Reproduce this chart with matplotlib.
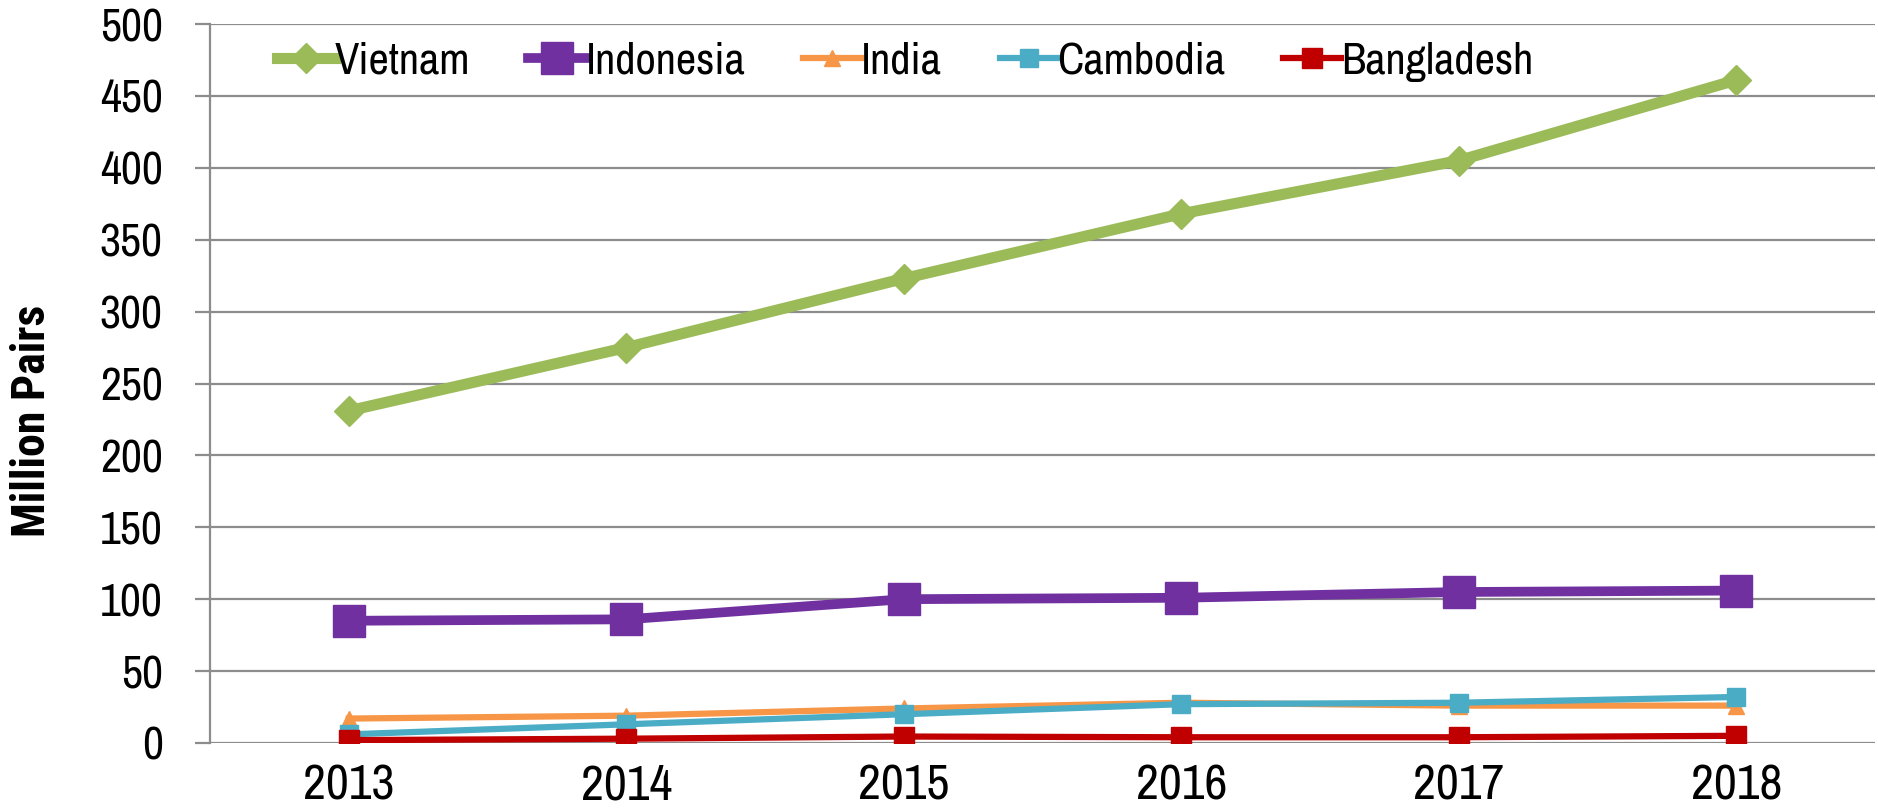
import matplotlib
matplotlib.use("Agg")
import matplotlib.pyplot as plt
from matplotlib import font_manager as fm

years = ["2013", "2014", "2015", "2016", "2017", "2018"]
vietnam = [231, 275, 323, 368, 405, 461]
indonesia = [85, 86, 100, 101, 105, 106]
india = [17, 19, 24, 28, 26, 26]
cambodia = [6, 13, 20, 27, 28, 32]
bangladesh = [2, 3, 4.5, 4, 4, 5]
series_names = ["Vietnam", "Indonesia", "India", "Cambodia", "Bangladesh"]
y_ticks = [0, 50, 100, 150, 200, 250, 300, 350, 400, 450, 500]

fonts = fm.fontManager.ttflist
names = {f.name for f in fonts}
cands = ["Liberation Sans Narrow", "Arial Narrow", "Archivo Narrow", "PT Sans Narrow", "Roboto Condensed"]
narrow = next((c for c in cands if c in names), "DejaVu Sans")

def has_bold(n):
    for f in fonts:
        if f.name == n and f.style == "normal":
            try:
                if int(f.weight) >= 700:
                    return True
            except (TypeError, ValueError):
                if str(f.weight) in ("bold", "heavy", "black", "extra bold"):
                    return True
    return False

bold_cands = ["Liberation Sans Narrow", "Arial Narrow", "Roboto Condensed", "IBM Plex Sans Condensed",
              "Fira Sans Condensed", "Open Sans Condensed", "Encode Sans Condensed", "Barlow Semi Condensed"]
narrow_bold = next((c for c in bold_cands if c in names and has_bold(c)), narrow)

W, H = 1878, 811
fig = plt.figure(figsize=(W / 100, H / 100), dpi=100)
ax = fig.add_axes([210 / W, 1 - 743 / H, (1875 - 210) / W, (743 - 24) / H])

x = list(range(len(years)))
ax.plot(x, vietnam, color="#9BBB59", lw=8, marker="D", ms=15.5, label=series_names[0], zorder=3)
ax.plot(x, indonesia, color="#7030A0", lw=7, marker="s", ms=22.5, label=series_names[1], zorder=3)
ax.plot(x, india, color="#F79646", lw=4.5, marker="^", ms=11, label=series_names[2], zorder=4)
ax.plot(x, cambodia, color="#4BACC6", lw=4.5, marker="s", ms=13, label=series_names[3], zorder=5)
ax.plot(x, bangladesh, color="#C00000", lw=4.5, marker="s", ms=14.5, label=series_names[4], zorder=6)

ax.set_xlim(-0.5, len(years) - 0.5)
ax.set_ylim(0, 500)
ax.set_yticks(y_ticks)
ax.set_xticks(x)
ax.set_xticklabels(years, fontfamily=narrow, fontsize=36)
ax.set_yticklabels([str(v) for v in y_ticks], fontfamily=narrow, fontsize=33)

ax.grid(axis="y", color="#8C8C8C", lw=1.6, zorder=0)
ax.set_axisbelow(True)
for s in ["top", "right", "bottom"]:
    ax.spines[s].set_visible(False)
ax.spines["left"].set_color("#8C8C8C")
ax.spines["left"].set_linewidth(1.6)
ax.tick_params(axis="y", length=11, width=1.6, color="#8C8C8C", pad=23)
ax.tick_params(axis="x", length=0, pad=15)

fig.text(32 / W, 1 - 421 / H, "Million Pairs", rotation=90, ha="center", va="center",
         fontfamily=narrow_bold, fontweight="bold", fontsize=33)

leg = ax.legend(loc="upper left", bbox_to_anchor=(277 / W, 1 - 42 / H), bbox_transform=fig.transFigure,
                ncol=5, frameon=False, prop={"family": narrow, "size": 32},
                handlelength=1.3, handletextpad=0.0, columnspacing=1.3, borderpad=0, borderaxespad=0)

fig.savefig("out.png", dpi=100)
